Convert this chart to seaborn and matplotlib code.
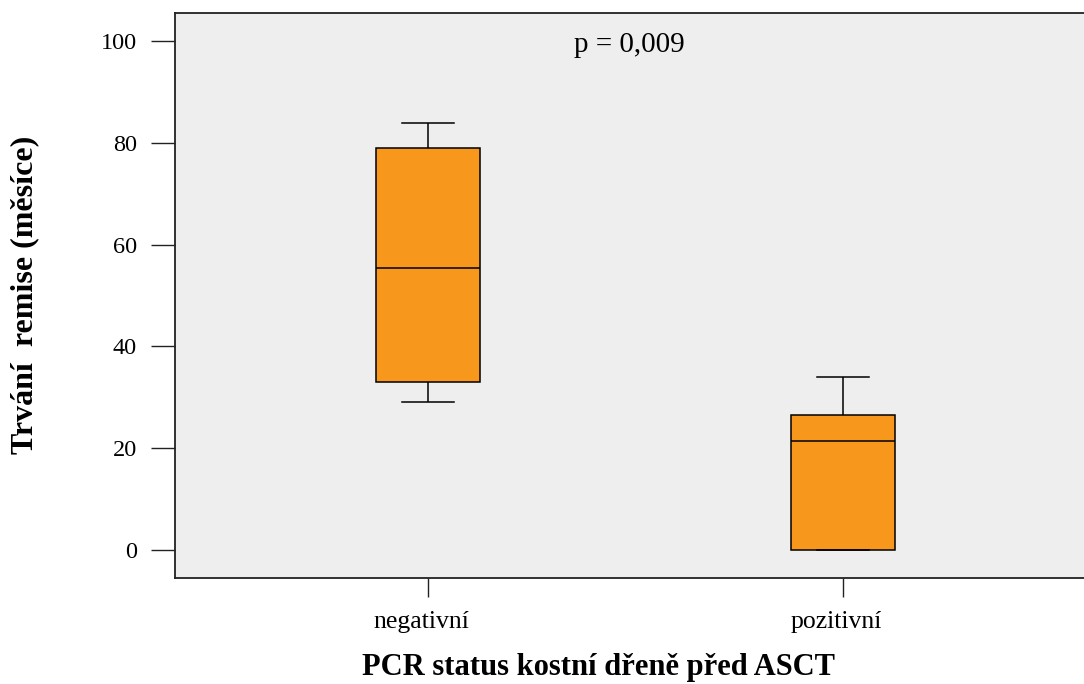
import matplotlib
matplotlib.use("Agg")
import matplotlib.pyplot as plt
import matplotlib.transforms as mtransforms
import seaborn as sns
import pandas as pd

# Five-number summaries (months)
categories = ["negativní", "pozitivní"]
mins = [29.0, 0.0]
q1s = [33.0, 0.0]
medians = [55.5, 21.5]
q3s = [79.0, 26.5]
maxs = [84.0, 34.0]
yticks = [0, 20, 40, 60, 80, 100]
p_text = "p = 0,009"
xlabel = "PCR status kostní dřeně před ASCT"
ylabel = "Trvání  remise (měsíce)"

rows = []
for c, a, b, m, d, e in zip(categories, mins, q1s, medians, q3s, maxs):
    for v in (a, b, m, d, e):
        rows.append({"group": c, "value": v})
df = pd.DataFrame(rows)

plt.rcParams["font.family"] = ["Liberation Serif", "DejaVu Serif"]

fig = plt.figure(figsize=(10.84, 6.84), dpi=100)
ax = fig.add_axes([175 / 1084, 1 - 578 / 684, (1096 - 175) / 1084, (578 - 12.7) / 684])
ax.set_facecolor("#EEEEEE")

sns.boxplot(data=df, x="group", y="value", order=categories, ax=ax,
            width=0.25, color="#F7981D", saturation=1, linecolor="black",
            linewidth=1.1, whis=1.5, showfliers=False)

ax.set_xlim(-0.61, 1.61)
ax.set_ylim(-5.5, 105.6)
ax.set_yticks(yticks)
ax.set_yticklabels([str(t) for t in yticks])

ax.tick_params(axis="y", length=17.3, width=1, pad=10, labelsize=17.5, color="#222222")
ax.tick_params(axis="x", length=13.7, width=1, pad=10, labelsize=18.5, color="#222222")
for s in ax.spines.values():
    s.set_color("#222222")
    s.set_linewidth(1.3)

shift = mtransforms.ScaledTranslation(-7 / 100, 0, fig.dpi_scale_trans)
for lab in ax.get_xticklabels():
    lab.set_transform(lab.get_transform() + shift)

ax.set_xlabel(xlabel, fontsize=22, fontweight="bold")
ax.xaxis.set_label_coords((598 - 175) / 921, (578 - 667) / 565.3)
ax.xaxis.label.set_va("center")
ax.set_ylabel(ylabel, fontsize=23, fontweight="bold")
ax.yaxis.set_label_coords((25 - 175) / 921, 0.5)
ax.yaxis.label.set_va("center")

ax.text(0.485, 99.3, p_text, ha="center", va="center", fontsize=21)

fig.savefig("out.png", dpi=100)
